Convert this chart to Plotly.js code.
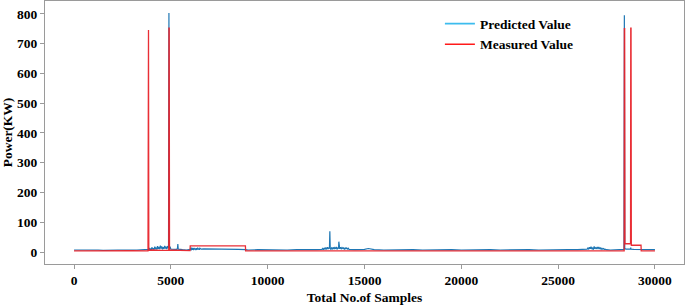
<!DOCTYPE html>
<html>
<head>
<meta charset="utf-8">
<script src="https://cdn.plot.ly/plotly-3.0.1.min.js"></script>
<style>html,body{margin:0;padding:0;background:#fff;}#chart{width:685px;height:305px;}</style>
</head>
<body>
<div id="chart"></div>
<script>
// Sample index and values
var predictedX = [0,250,500,750,1000,1250,1500,1750,2000,2250,2500,2750,3000,3250,3500,3800,
  3850,3880,3910,3950,3980,4020,4060,4090,4130,4170,4200,4240,4280,4310,4350,4390,4420,4460,4500,4530,4570,4610,4640,4680,4720,4750,4790,4830,4860,4880,4900,4915,4935,4960,
  5000,5100,5200,5300,5340,5360,5380,5450,5600,5800,5950,
  6000,6020,6050,6080,6110,6140,6170,6200,6230,6260,6290,6320,6350,6380,6410,6440,6470,6500,6560,6700,7000,7500,8000,8500,8850,
  9000,9500,10000,10500,11000,11500,12000,12500,12800,12840,12880,12920,12960,13000,13040,13080,13120,13160,13190,13210,13230,13260,
  13300,13340,13380,13420,13460,13500,13540,13580,13620,13660,13675,13690,13720,13760,13800,13840,13880,13920,13960,14000,14040,14080,14120,14160,14200,
  14500,15000,15200,15500,16000,16500,17000,17500,18000,18500,19000,19500,20000,20500,21000,21500,22000,22500,
  23000,23500,24000,24500,25000,25500,26000,26500,26540,26580,26620,26660,26700,26740,26780,26820,26860,26900,26940,26980,27020,
  27060,27100,27140,27180,27220,27260,27300,27340,27380,27420,27500,27700,28000,28300,28400,28420,28440,28500,28600,28700,
  28740,28750,28760,28900,29100,29300,29500,29700,29999];
var predictedY = [7,8,7,7,8,7,6,7,8,7,7,8,7,7,8,7,
  9,14,8,12,7,16,9,13,8,18,10,15,9,20,11,17,10,22,12,19,9,16,11,21,12,18,10,20,13,25,803,30,12,18,
  10,9,8,9,12,27,10,9,8,7,7,
  9,14,6,15,8,13,7,14,9,12,7,13,8,15,9,12,8,13,10,11,11,10,9,9,8,
  7,8,7,8,7,8,7,8,9,12,8,14,10,15,9,16,11,14,12,70,13,10,
  14,9,16,10,15,11,17,9,14,12,35,15,11,16,10,15,12,14,9,15,11,14,10,13,9,
  8,9,12,8,7,8,7,8,7,8,7,8,7,8,7,8,7,8,
  7,8,7,8,7,8,8,10,14,9,16,11,18,10,15,8,19,11,15,12,17,
  10,17,12,14,9,13,10,12,9,10,8,7,8,8,9,795,12,10,11,10,
  10,15,10,9,9,8,9,8,8];

var measuredX = [0,1000,2000,3000,3820,3830,3845,3860,4000,4500,4890,4900,4915,4930,5500,5990,6000,7000,8000,8850,8860,
  10000,13000,15000,20000,25000,28000,28410,28420,28435,28450,28740,28750,28765,28780,29280,29290,29999];
var measuredY = [4,5,4,5,4,746,746,6,7,6,6,752,752,7,5,5,21,22,21,21,4,
  4,4,4,4,4,4,4,750,750,28,28,752,752,23,23,4,4];

var traces = [
  {x: predictedX, y: predictedY, type: 'scatter', mode: 'lines', name: 'Predicted Value',
   line: {color: '#1f77b4', width: 1.2}, showlegend: false},
  {x: measuredX, y: measuredY, type: 'scatter', mode: 'lines', name: 'Measured Value',
   line: {color: '#e8232a', width: 1.3}, opacity: 0.95, showlegend: false},
  {x: [null], y: [null], type: 'scatter', mode: 'lines', name: 'Predicted Value',
   line: {color: '#3cbcee', width: 1.6}},
  {x: [null], y: [null], type: 'scatter', mode: 'lines', name: 'Measured Value',
   line: {color: '#ff1a1a', width: 1.6}}
];

var fontFam = 'Liberation Serif, Times New Roman, serif';
var boldFont = {family: fontFam, size: 13.5, color: '#000', weight: 'bold'};
var layout = {
  width: 685, height: 305,
  margin: {l: 45, r: 1, t: 1, b: 41},
  paper_bgcolor: '#fff', plot_bgcolor: '#fff',
  font: {family: fontFam, size: 13.5, color: '#000'},
  showlegend: true,
  legend: {x: 0.618, y: 0.972, xanchor: 'left', yanchor: 'top', bgcolor: 'rgba(0,0,0,0)',
    font: boldFont, itemwidth: 30, tracegroupgap: 0},
  xaxis: {
    range: [-1500, 31500], tickvals: [0,5000,10000,15000,20000,25000,30000],
    ticktext: ['0','5000','10000','15000','20000','25000','30000'],
    showgrid: false, zeroline: false, showline: true, mirror: true, linecolor: '#9a9a9a', linewidth: 1,
    ticks: 'outside', ticklen: 4, tickcolor: '#9a9a9a',
    tickfont: boldFont,
    title: {text: 'Total No.of Samples', standoff: 14, font: boldFont}
  },
  yaxis: {
    range: [-40, 843], tickvals: [0,100,200,300,400,500,600,700,800],
    showgrid: false, zeroline: false, showline: true, mirror: true, linecolor: '#9a9a9a', linewidth: 1,
    ticks: 'outside', ticklen: 4, tickcolor: '#9a9a9a',
    tickfont: boldFont,
    title: {text: 'Power(KW)', standoff: 4, font: boldFont}
  }
};
Plotly.newPlot('chart', traces, layout, {displayModeBar: false, staticPlot: true});
</script>
</body>
</html>
